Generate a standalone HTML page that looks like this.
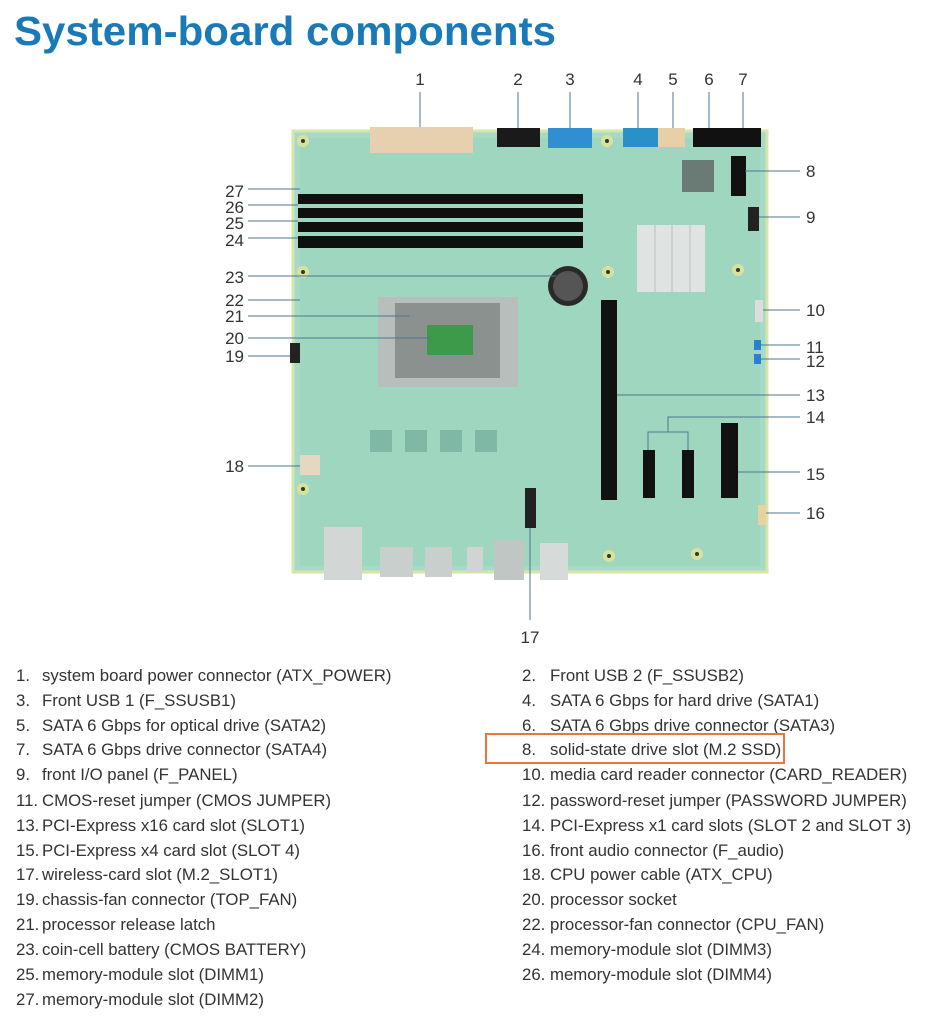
<!DOCTYPE html>
<html><head><meta charset="utf-8"><style>
html,body{margin:0;padding:0;background:#fff;}
svg{display:block;}
text{font-family:"Liberation Sans",Arial,sans-serif;}
</style></head><body>
<svg width="933" height="1024" viewBox="0 0 933 1024" xmlns="http://www.w3.org/2000/svg">
<text x="14" y="45" font-size="41" font-weight="bold" fill="#1a7ab8" textLength="542" lengthAdjust="spacingAndGlyphs">System-board components</text>

<rect x="293" y="131" width="474" height="441" fill="#a6dac6" stroke="#d6e6a8" stroke-width="3"/>
<rect x="300" y="138" width="460" height="428" fill="#9fd6c0"/>
<g fill="#2a3a33" stroke="#d9e29a" stroke-width="4">
<circle cx="303" cy="141" r="4"/><circle cx="607" cy="141" r="4"/>
<circle cx="303" cy="272" r="4"/><circle cx="608" cy="272" r="4"/><circle cx="738" cy="270" r="4"/>
<circle cx="303" cy="489" r="4"/><circle cx="609" cy="556" r="4"/><circle cx="697" cy="554" r="4"/>
</g>
<rect x="370" y="127" width="103" height="26" fill="#e7d0b0"/>
<rect x="497" y="128" width="43" height="19" fill="#1a1a1a"/>
<rect x="548" y="128" width="44" height="20" fill="#2f8fd0"/>
<rect x="623" y="128" width="35" height="19" fill="#2a90c8"/>
<rect x="658" y="128" width="27" height="19" fill="#e9cfa8"/>
<rect x="693" y="128" width="37" height="19" fill="#111"/>
<rect x="730" y="128" width="31" height="19" fill="#111"/>
<rect x="731" y="156" width="15" height="40" fill="#111"/>
<rect x="748" y="207" width="11" height="24" fill="#222"/>
<rect x="682" y="160" width="32" height="32" fill="#6a7b75"/>
<g fill="#0f0f0f">
<rect x="298" y="194" width="285" height="10"/>
<rect x="298" y="208" width="285" height="10"/>
<rect x="298" y="222" width="285" height="10"/>
<rect x="298" y="236" width="285" height="12"/>
</g>
<rect x="637" y="225" width="68" height="67" fill="#dfe4e2"/>
<g stroke="#b8c0bd"><line x1="655" y1="225" x2="655" y2="292"/><line x1="672" y1="225" x2="672" y2="292"/><line x1="690" y1="225" x2="690" y2="292"/></g>
<circle cx="568" cy="286" r="20" fill="#2a2a2a"/><circle cx="568" cy="286" r="15" fill="#555"/>
<rect x="378" y="297" width="140" height="90" fill="#b8bebb"/>
<rect x="395" y="303" width="105" height="75" fill="#8a918e"/>
<rect x="427" y="325" width="46" height="30" fill="#3d9a4a"/>
<g fill="#7fb8a5"><rect x="370" y="430" width="22" height="22"/><rect x="405" y="430" width="22" height="22"/><rect x="440" y="430" width="22" height="22"/><rect x="475" y="430" width="22" height="22"/></g>
<rect x="300" y="455" width="20" height="20" fill="#e6d7c2"/>
<rect x="290" y="343" width="10" height="20" fill="#222"/>
<rect x="601" y="300" width="16" height="200" fill="#111"/>
<rect x="643" y="450" width="12" height="48" fill="#111"/>
<rect x="682" y="450" width="12" height="48" fill="#111"/>
<rect x="721" y="423" width="17" height="75" fill="#111"/>
<rect x="525" y="488" width="11" height="40" fill="#222"/>
<rect x="755" y="300" width="8" height="22" fill="#ddd"/>
<rect x="754" y="340" width="7" height="10" fill="#2a7fd0"/><rect x="754" y="354" width="7" height="10" fill="#2a7fd0"/>
<rect x="758" y="505" width="8" height="20" fill="#e9d2a0"/>
<rect x="324" y="527" width="38" height="53" fill="#d2d6d4"/>
<rect x="380" y="547" width="33" height="30" fill="#c8cfcc"/>
<rect x="425" y="547" width="27" height="30" fill="#c8cfcc"/>
<rect x="467" y="547" width="16" height="25" fill="#d0d4d2"/>
<rect x="494" y="540" width="30" height="40" fill="#c0c6c4"/>
<rect x="540" y="543" width="28" height="37" fill="#d6dad8"/>

<g stroke="#4c7690" stroke-width="1" fill="none">
<line x1="420" y1="92" x2="420" y2="127"/><line x1="518" y1="92" x2="518" y2="128"/>
<line x1="570" y1="92" x2="570" y2="128"/><line x1="638" y1="92" x2="638" y2="128"/>
<line x1="673" y1="92" x2="673" y2="128"/><line x1="709" y1="92" x2="709" y2="128"/>
<line x1="743" y1="92" x2="743" y2="128"/>
<line x1="745" y1="171" x2="800" y2="171"/><line x1="759" y1="217" x2="800" y2="217"/>
<line x1="763" y1="310" x2="800" y2="310"/><line x1="761" y1="345" x2="800" y2="345"/>
<line x1="761" y1="359" x2="800" y2="359"/><line x1="617" y1="395" x2="800" y2="395"/>
<path d="M648 450 V432 H688 V450 M668 432 V417 H800"/>
<line x1="738" y1="472" x2="800" y2="472"/><line x1="766" y1="513" x2="800" y2="513"/>
<line x1="248" y1="189" x2="300" y2="189"/><line x1="248" y1="205" x2="298" y2="205"/>
<line x1="248" y1="221" x2="298" y2="221"/><line x1="248" y1="238" x2="298" y2="238"/>
<line x1="248" y1="276" x2="556" y2="276"/><line x1="248" y1="300" x2="300" y2="300"/>
<line x1="248" y1="316" x2="410" y2="316"/><line x1="248" y1="338" x2="430" y2="338"/>
<line x1="248" y1="356" x2="290" y2="356"/><line x1="248" y1="466" x2="300" y2="466"/>
<line x1="530" y1="528" x2="530" y2="620"/>
</g>
<g font-size="17" fill="#333">
<text x="420" y="85" text-anchor="middle">1</text><text x="518" y="85" text-anchor="middle">2</text>
<text x="570" y="85" text-anchor="middle">3</text><text x="638" y="85" text-anchor="middle">4</text>
<text x="673" y="85" text-anchor="middle">5</text><text x="709" y="85" text-anchor="middle">6</text>
<text x="743" y="85" text-anchor="middle">7</text>
<text x="806" y="177">8</text><text x="806" y="223">9</text><text x="806" y="316">10</text>
<text x="806" y="353">11</text><text x="806" y="367">12</text><text x="806" y="401">13</text>
<text x="806" y="423">14</text><text x="806" y="480">15</text><text x="806" y="519">16</text>
<text x="244" y="197" text-anchor="end">27</text><text x="244" y="213" text-anchor="end">26</text>
<text x="244" y="229" text-anchor="end">25</text><text x="244" y="246" text-anchor="end">24</text>
<text x="244" y="283" text-anchor="end">23</text><text x="244" y="306" text-anchor="end">22</text>
<text x="244" y="322" text-anchor="end">21</text><text x="244" y="344" text-anchor="end">20</text>
<text x="244" y="362" text-anchor="end">19</text><text x="244" y="472" text-anchor="end">18</text>
<text x="530" y="643" text-anchor="middle">17</text>
</g>

<g font-size="16.8" fill="#333">
<text x="16" y="681">1.</text><text x="42" y="681">system board power connector (ATX_POWER)</text>
<text x="16" y="706">3.</text><text x="42" y="706">Front USB 1 (F_SSUSB1)</text>
<text x="16" y="731">5.</text><text x="42" y="731">SATA 6 Gbps for optical drive (SATA2)</text>
<text x="16" y="755">7.</text><text x="42" y="755">SATA 6 Gbps drive connector (SATA4)</text>
<text x="16" y="780">9.</text><text x="42" y="780">front I/O panel (F_PANEL)</text>
<text x="16" y="806">11.</text><text x="42" y="806">CMOS-reset jumper (CMOS JUMPER)</text>
<text x="16" y="831">13.</text><text x="42" y="831">PCI-Express x16 card slot (SLOT1)</text>
<text x="16" y="856">15.</text><text x="42" y="856">PCI-Express x4 card slot (SLOT 4)</text>
<text x="16" y="880">17.</text><text x="42" y="880">wireless-card slot (M.2_SLOT1)</text>
<text x="16" y="905">19.</text><text x="42" y="905">chassis-fan connector (TOP_FAN)</text>
<text x="16" y="930">21.</text><text x="42" y="930">processor release latch</text>
<text x="16" y="955">23.</text><text x="42" y="955">coin-cell battery (CMOS BATTERY)</text>
<text x="16" y="980">25.</text><text x="42" y="980">memory-module slot (DIMM1)</text>
<text x="16" y="1005">27.</text><text x="42" y="1005">memory-module slot (DIMM2)</text>

<text x="522" y="681">2.</text><text x="550" y="681">Front USB 2 (F_SSUSB2)</text>
<text x="522" y="706">4.</text><text x="550" y="706">SATA 6 Gbps for hard drive (SATA1)</text>
<text x="522" y="731">6.</text><text x="550" y="731">SATA 6 Gbps drive connector (SATA3)</text>
<text x="522" y="755">8.</text><text x="550" y="755">solid-state drive slot (M.2 SSD)</text>
<text x="522" y="780">10.</text><text x="550" y="780">media card reader connector (CARD_READER)</text>
<text x="522" y="806">12.</text><text x="550" y="806">password-reset jumper (PASSWORD JUMPER)</text>
<text x="522" y="831">14.</text><text x="550" y="831">PCI-Express x1 card slots (SLOT 2 and SLOT 3)</text>
<text x="522" y="856">16.</text><text x="550" y="856">front audio connector (F_audio)</text>
<text x="522" y="880">18.</text><text x="550" y="880">CPU power cable (ATX_CPU)</text>
<text x="522" y="905">20.</text><text x="550" y="905">processor socket</text>
<text x="522" y="930">22.</text><text x="550" y="930">processor-fan connector (CPU_FAN)</text>
<text x="522" y="955">24.</text><text x="550" y="955">memory-module slot (DIMM3)</text>
<text x="522" y="980">26.</text><text x="550" y="980">memory-module slot (DIMM4)</text>
</g>
<rect x="486" y="734" width="298" height="29" fill="none" stroke="#e8773c" stroke-width="2"/>
</svg>
</body></html>
